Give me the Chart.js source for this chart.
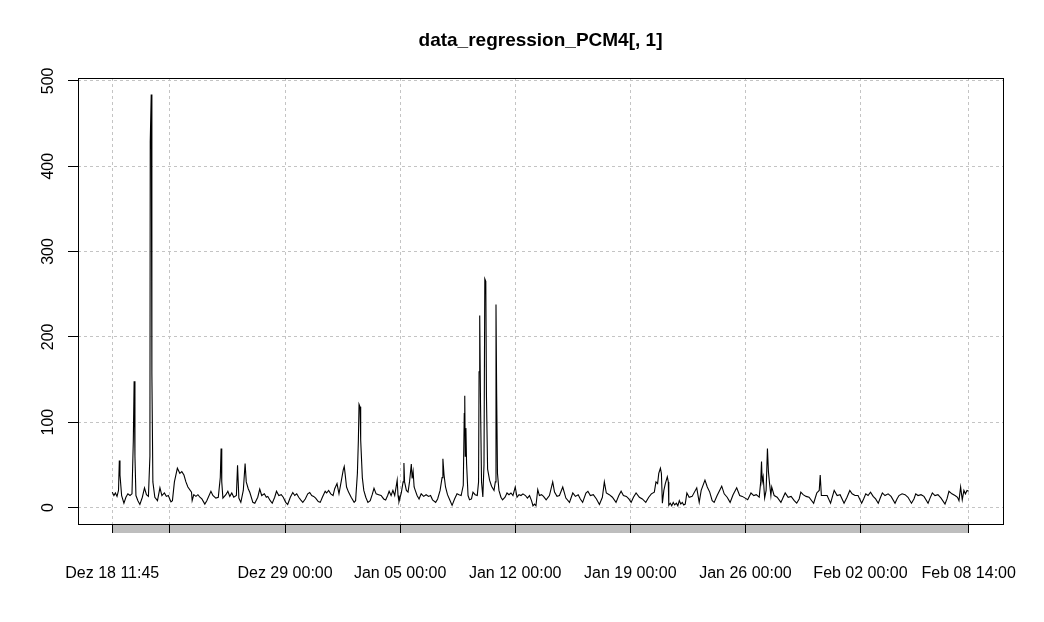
<!DOCTYPE html>
<html><head><meta charset="utf-8">
<script src="https://cdn.jsdelivr.net/npm/chart.js@4.4.0/dist/chart.umd.min.js"></script>
<style>html,body{margin:0;padding:0;background:#fff;}#wrap{width:1044px;height:622px;}</style>
</head><body><div id="wrap"><canvas id="c" width="1044" height="622"></canvas></div>
<script>
// chart title
const chartTitle = "data_regression_PCM4[, 1]";
// time positions: days since Dez 18 11:45
const dayOffsets = [
 0.00,0.10,0.19,0.29,0.38,0.43,0.47,0.57,0.71,0.83,0.95,1.08,1.20,1.28,1.33,1.38,1.44,1.56,1.68,1.83,
 1.96,2.08,2.20,2.29,2.31,2.37,2.41,2.47,2.59,2.75,2.90,3.02,3.17,3.29,3.41,3.57,3.66,3.78,3.96,4.11,
 4.23,4.36,4.48,4.60,4.82,4.86,4.96,5.09,5.21,5.33,5.45,5.63,5.75,6.00,6.12,6.30,6.45,6.57,6.62,6.66,
 6.73,6.91,7.03,7.15,7.27,7.39,7.55,7.62,7.70,7.82,7.97,8.08,8.15,8.27,8.37,8.55,8.67,8.85,8.97,9.09,
 9.25,9.37,9.46,9.61,9.73,9.88,9.99,10.13,10.28,10.40,10.55,10.67,10.83,10.98,11.10,11.22,11.34,11.46,11.59,11.74,
 11.89,12.01,12.13,12.25,12.37,12.53,12.65,12.78,12.95,13.04,13.16,13.29,13.43,13.53,13.67,13.79,13.92,14.05,14.11,14.16,
 14.25,14.37,14.53,14.71,14.80,14.91,14.97,15.01,15.07,15.11,15.21,15.30,15.42,15.55,15.69,15.81,15.92,16.05,16.20,16.35,
 16.51,16.63,16.75,16.84,16.96,17.07,17.18,17.33,17.38,17.44,17.58,17.69,17.74,17.78,17.89,17.99,18.08,18.19,18.24,18.30,
 18.36,18.43,18.54,18.66,18.79,18.94,19.09,19.24,19.36,19.48,19.67,19.79,19.94,20.06,20.11,20.18,20.27,20.39,20.55,20.67,
 20.82,20.97,21.09,21.22,21.35,21.41,21.44,21.47,21.51,21.55,21.64,21.73,21.85,21.94,22.07,22.20,22.28,22.31,22.35,22.40,
 22.46,22.54,22.61,22.66,22.72,22.76,22.83,22.95,23.07,23.22,23.30,23.34,23.38,23.43,23.52,23.64,23.74,23.89,24.01,24.13,
 24.25,24.37,24.51,24.62,24.74,24.86,24.98,25.13,25.25,25.38,25.50,25.59,25.68,25.77,25.88,25.98,26.11,26.23,26.39,26.59,
 26.79,26.90,27.05,27.20,27.40,27.59,27.81,28.01,28.17,28.34,28.47,28.61,28.81,28.93,29.08,29.26,29.45,29.63,29.81,29.93,
 30.05,30.23,30.42,30.64,30.81,30.95,31.09,31.27,31.42,31.56,31.70,31.86,32.06,32.24,32.45,32.63,32.79,32.97,33.07,33.17,
 33.24,33.34,33.40,33.46,33.55,33.64,33.76,33.82,33.85,33.94,34.03,34.12,34.21,34.31,34.40,34.49,34.58,34.67,34.76,34.85,
 34.95,35.09,35.27,35.55,35.70,35.82,36.05,36.19,36.34,36.49,36.61,36.79,37.07,37.22,37.40,37.58,37.76,37.98,38.16,38.32,
 38.50,38.65,38.85,39.02,39.17,39.35,39.44,39.49,39.53,39.59,39.68,39.77,39.85,39.91,39.98,40.06,40.11,40.26,40.44,40.67,
 40.81,40.93,41.11,41.29,41.48,41.63,41.78,41.88,42.02,42.20,42.38,42.66,42.85,43.00,43.06,43.13,43.30,43.48,43.69,43.91,
 44.09,44.27,44.51,44.69,44.86,45.00,45.18,45.36,45.58,45.70,45.83,45.97,46.12,46.28,46.43,46.59,46.73,46.84,47.00,47.19,
 47.37,47.61,47.73,47.85,48.04,48.22,48.40,48.61,48.76,48.87,49.01,49.19,49.37,49.62,49.74,49.88,50.04,50.22,50.41,50.65,
 50.77,50.89,51.07,51.26,51.41,51.50,51.60,51.70,51.80,51.89,51.99,52.09
];
// series values
const seriesValues = [
 18,14,17,13,20,55,38,14,5,12,16,14,16,78,148,60,14,8,3.6,12,
 23,15,13,60,429,484,157,30,12,8,23,14,17,13,14,6.5,8,30,46,40,
 42,38,30,24,18,8,15,13,15,12,10,4,8,19,14,11,12,35,69,30,
 11,15,19,13,17,12,14,49.6,11,6,20,51.5,30,22,17.5,6,5,12,21.5,14,
 16,12,13,8,5,12,19,14,15,12,6,3.6,12,17.5,14,16,12,9,6,10,
 16,17.5,14,13,11,7,6,12,19,17,20,16,14,22,28,16,30,44,48,40,
 24,18,12,6,8,40,79,121,118,79,35,20,12,6,8,15,22.5,16,15,14,
 10,8.8,14,19,14,20,14,32,14,6.7,17,30,52,30,20,18,30,51,34,42,
 24,20,14,10,16,13,15,13,14,9,6,10,20,35,57,38,24,15,8,2.5,
 10,16,15,14,26,110,131,60,93,52,14,9,10,18,15,14,30,159,225,120,
 30,12.4,50,268,265,130,45,32,25,20,30,238,134,40,20,12,9,12,17,15,
 17,14,24,12,15,14,16,14,11,14,8,2,4,2,21,14,15,13,9,14,
 30,18,13,14,24,11,6,17,13,15,10,6,17,19,14,15,10,3.6,12,30,
 17,15,12,6,14,19,14,13,10,6,12,17,12,10,6,12,16,18,30,28,
 40,46,40,5,20,28,36,30,2.5,5,2,6,3,5,2,8,4,6,3,4,
 17,12,13,23,6,20,32,24,18,8,6,14,25,16,12,6,15,23,14,13,
 11,9,17,14,15,12,30,54,30,36,11,20,69,42,28,14,24,14,12,6,
 12,17,12,13,8,5,10,18,15,13,12,5,17,20,38,14,14,14,5,20,
 14,15,5,12,20,16,14,14,5,10,16,14,18,13,10,5,12,17,14,16,
 13,5,10,14,16,15,12,5,10,16,14,15,13,5,11,17,14,15,11,4,
 10,19,16,14,12,8,24,9,20,16,20,19
];
// x tick positions (days since start) and labels
const xTickDays = [0, 3.5104, 10.5104, 17.5104, 24.5104, 31.5104, 38.5104, 45.5104, 52.0938];
const xTickLabels = ["Dez 18 11:45", "", "Dez 29 00:00", "Jan 05 00:00", "Jan 12 00:00", "Jan 19 00:00", "Jan 26 00:00", "Feb 02 00:00", "Feb 08 14:00"];
// y ticks
const yTickValues = [0, 100, 200, 300, 400, 500];

const FONT = "'Liberation Sans', Arial, sans-serif";
const span = xTickDays[xTickDays.length - 1] - xTickDays[0];
const yDataMin = 0, yDataMax = Math.max(...seriesValues);

const points = dayOffsets.map((d, i) => ({x: d, y: seriesValues[i]}));

const rStyle = {
  id: 'rStyle',
  beforeDraw(chart) {
    const ctx = chart.ctx, xs = chart.scales.x, a = chart.chartArea;
    ctx.save();
    ctx.fillStyle = '#fff';
    ctx.fillRect(0, 0, chart.width, chart.height);
    ctx.fillStyle = '#bebebe';
    const x0 = xs.getPixelForValue(xTickDays[0]);
    const x1 = xs.getPixelForValue(xTickDays[xTickDays.length - 1]);
    ctx.fillRect(x0, a.bottom, x1 - x0, 9);
    ctx.restore();
  },
  afterDraw(chart) {
    const ctx = chart.ctx, ys = chart.scales.y, a = chart.chartArea;
    ctx.save();
    ctx.strokeStyle = '#000';
    ctx.lineWidth = 1;
    ctx.strokeRect(Math.round(a.left) + 0.5, Math.round(a.top) + 0.5, Math.round(a.right - a.left), Math.round(a.bottom - a.top));
    ctx.fillStyle = '#000';
    ctx.font = "16px " + FONT;
    ctx.textAlign = 'center';
    ctx.textBaseline = 'middle';
    ys.ticks.forEach(t => {
      ctx.save();
      ctx.translate(49, ys.getPixelForValue(t.value));
      ctx.rotate(-Math.PI / 2);
      ctx.fillText(String(t.value), 0, 0);
      ctx.restore();
    });
    ctx.font = "bold 19px " + FONT;
    ctx.textBaseline = 'middle';
    ctx.fillText(chartTitle, (a.left + a.right) / 2, 41);
    ctx.restore();
  }
};

new Chart(document.getElementById('c'), {
  type: 'line',
  data: { datasets: [{
    data: points,
    borderColor: '#000',
    borderWidth: 1.1,
    pointRadius: 0,
    tension: 0,
    fill: false
  }]},
  options: {
    responsive: false,
    animation: false,
    devicePixelRatio: 1,
    layout: { padding: { left: 0, right: 41, top: 78, bottom: 0 } },
    plugins: { legend: { display: false }, tooltip: { enabled: false }, title: { display: false } },
    scales: {
      x: {
        type: 'linear',
        position: 'bottom',
        min: xTickDays[0] - 0.04 * span,
        max: xTickDays[xTickDays.length - 1] + 0.04 * span,
        afterBuildTicks: s => { s.ticks = xTickDays.map(v => ({value: v})); },
        afterFit: s => { s.height = 98; s.paddingLeft = 0; s.paddingRight = 0; },
        ticks: {
          autoSkip: false, maxRotation: 0, minRotation: 0, padding: 31,
          color: '#000', font: { family: FONT, size: 16 },
          callback: (v, i) => xTickLabels[i]
        },
        grid: { color: '#c4c4c4', lineWidth: 1, tickLength: 9, tickColor: '#000', tickBorderDash: [] },
        border: { display: false, dash: [3, 3] }
      },
      y: {
        type: 'linear',
        position: 'left',
        min: yDataMin - 0.04 * (yDataMax - yDataMin),
        max: yDataMax + 0.04 * (yDataMax - yDataMin),
        afterBuildTicks: s => { s.ticks = yTickValues.map(v => ({value: v})); },
        afterFit: s => { s.width = 78; s.paddingTop = 0; s.paddingBottom = 0; },
        ticks: { display: false },
        grid: { color: '#c4c4c4', lineWidth: 1, tickLength: 10, tickColor: '#000', tickBorderDash: [] },
        border: { display: false, dash: [3, 3] }
      }
    }
  },
  plugins: [rStyle]
});
</script>
</body></html>
